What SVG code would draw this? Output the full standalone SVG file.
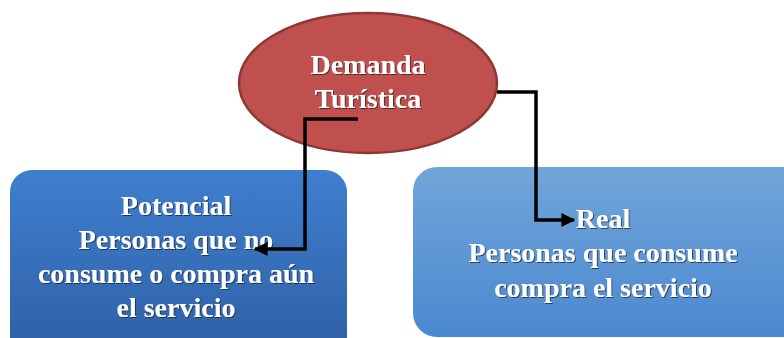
<svg xmlns="http://www.w3.org/2000/svg" width="784" height="338" viewBox="0 0 784 338">
<defs>
<linearGradient id="gL" x1="0" y1="0" x2="0" y2="1"><stop offset="0" stop-color="#3f7fcf"/><stop offset="1" stop-color="#2e5fa3"/></linearGradient>
<linearGradient id="gR" x1="0" y1="0" x2="0" y2="1"><stop offset="0" stop-color="#72a6da"/><stop offset="1" stop-color="#4a88cf"/></linearGradient>
<filter id="sh" x="-10%" y="-20%" width="120%" height="140%"><feDropShadow dx="1" dy="1" stdDeviation="0.6" flood-color="#1a1a1a" flood-opacity="0.7"/></filter>
<marker id="ah" viewBox="0 0 10 10" refX="9" refY="5" markerWidth="4" markerHeight="4" orient="auto" markerUnits="strokeWidth"><path d="M0,0 L10,5 L0,10 Z" fill="#000"/></marker>
</defs>
<style>
.t{font-family:"Liberation Serif","DejaVu Serif",serif;font-weight:bold;font-size:28px;fill:#fff;text-anchor:middle;filter:url(#sh)}
.c{fill:none;stroke:#000;stroke-width:3.5}
</style>
<rect width="784" height="338" fill="#fff"/>
<g id="potencial">
<rect x="10" y="170" width="337" height="190" rx="22" fill="url(#gL)"/>
<text class="t" x="176" y="215">Potencial</text>
<text class="t" x="176" y="249">Personas que no</text>
<text class="t" x="176" y="283">consume o compra aún</text>
<text class="t" x="176" y="317">el servicio</text>
</g>
<g id="real">
<rect x="413" y="167" width="400" height="170" rx="24" fill="url(#gR)"/>
<text class="t" x="603" y="228">Real</text>
<text class="t" x="603" y="262">Personas que consume</text>
<text class="t" x="603" y="297">compra el servicio</text>
</g>
<g id="demanda">
<ellipse cx="368" cy="83" rx="129" ry="70" fill="#c0504d" stroke="#8c3836" stroke-width="2.5"/>
<text class="t" x="368" y="74" font-size="27">Demanda</text>
<text class="t" x="368" y="108" font-size="27">Turística</text>
</g>
<g id="connectors">
<polyline class="c" points="358,119 305,119 305,249 255,249" marker-end="url(#ah)"/>
<polyline class="c" points="497,92 536,92 536,220 574,220" marker-end="url(#ah)"/>
</g>
</svg>
